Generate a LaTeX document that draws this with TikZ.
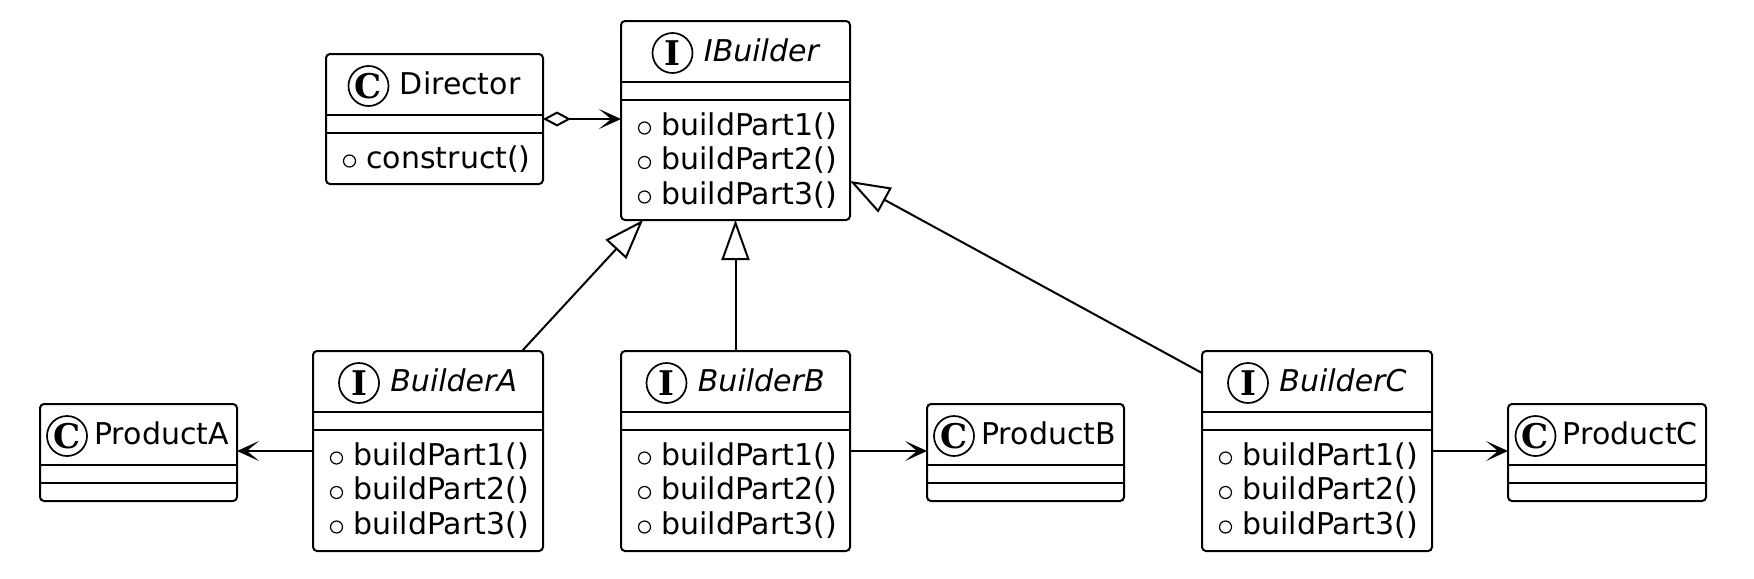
\documentclass[tikz,border=0pt]{standalone}
\usepackage{fontspec}
\newfontfamily\dvs{DejaVu Sans}
\newfontfamily\spotfont{DejaVu Serif}
\usetikzlibrary{arrows.meta,fit,calc}
\tikzset{
  box/.style={draw, line width=1pt, rounded corners=2pt, inner sep=0pt, outer sep=0pt},
  sep/.style={line width=1pt},
  ttl/.style={font=\dvs\fontsize{15}{18}\selectfont, anchor=base west, inner sep=0pt},
  ittl/.style={ttl, font=\dvs\itshape\fontsize{15}{18}\selectfont},
  mem/.style={ttl},
  spot/.style={circle, draw, line width=0.85pt, minimum size=20pt, inner sep=0pt, font=\spotfont\bfseries\fontsize{17}{17}\selectfont},
  vis/.style={circle, draw, line width=0.6pt, minimum size=6pt, inner sep=0pt},
  conn/.style={line width=1pt},
  assoc/.style={conn, -{Stealth[length=11pt,width=10pt,inset=6pt]}},
  gen/.style={conn, -{Triangle[open,length=20pt,width=14pt,fill=white]}},
  agg/.style={conn, {Diamond[open,length=14pt,width=7.5pt,fill=white]}-{Stealth[length=11pt,width=10pt,inset=6pt]}},
}
\begin{document}
\begin{tikzpicture}[x=0.5pt,y=-0.5pt]
\useasboundingbox (0,0) rectangle (1754,578);

% ---------- Director ----------
\node[box, fit={(326,54) (543,184)}] (dir) {};
\draw[sep] (dir.west |- 0,115) -- (dir.east |- 0,115);
\draw[sep] (dir.west |- 0,132.5) -- (dir.east |- 0,132.5);
\node[spot] (dir-s) at (368.5,86) {C};
\node[ttl] (dir-t) at (399.5,94) {Director};
\node[vis] (dir-v1) at (349.5,161) {};
\node[mem] (dir-m1) at (366,168) {construct()};

% ---------- IBuilder ----------
\node[box, fit={(621,21) (850,220)}] (ib) {};
\draw[sep] (ib.west |- 0,82) -- (ib.east |- 0,82);
\draw[sep] (ib.west |- 0,99.5) -- (ib.east |- 0,99.5);
\node[spot] (ib-s) at (672.5,53) {I};
\node[ittl] (ib-t) at (703.5,61) {IBuilder};
\node[vis] (ib-v1) at (644.5,128) {};
\node[mem] (ib-m1) at (661,135) {buildPart1()};
\node[vis] (ib-v2) at (644.5,162.5) {};
\node[mem] (ib-m2) at (661,169.5) {buildPart2()};
\node[vis] (ib-v3) at (644.5,197) {};
\node[mem] (ib-m3) at (661,204) {buildPart3()};

% ---------- BuilderA ----------
\node[box, fit={(313,351) (543,551)}] (ba) {};
\draw[sep] (ba.west |- 0,412) -- (ba.east |- 0,412);
\draw[sep] (ba.west |- 0,429.5) -- (ba.east |- 0,429.5);
\node[spot] (ba-s) at (359,383) {I};
\node[ittl] (ba-t) at (390,391) {BuilderA};
\node[vis] (ba-v1) at (336.5,458) {};
\node[mem] (ba-m1) at (353,465) {buildPart1()};
\node[vis] (ba-v2) at (336.5,492.5) {};
\node[mem] (ba-m2) at (353,499.5) {buildPart2()};
\node[vis] (ba-v3) at (336.5,527) {};
\node[mem] (ba-m3) at (353,534) {buildPart3()};

% ---------- BuilderB ----------
\node[box, fit={(621,351) (850,551)}] (bb) {};
\draw[sep] (bb.west |- 0,412) -- (bb.east |- 0,412);
\draw[sep] (bb.west |- 0,429.5) -- (bb.east |- 0,429.5);
\node[spot] (bb-s) at (666.5,383) {I};
\node[ittl] (bb-t) at (697.5,391) {BuilderB};
\node[vis] (bb-v1) at (644.5,458) {};
\node[mem] (bb-m1) at (661,465) {buildPart1()};
\node[vis] (bb-v2) at (644.5,492.5) {};
\node[mem] (bb-m2) at (661,499.5) {buildPart2()};
\node[vis] (bb-v3) at (644.5,527) {};
\node[mem] (bb-m3) at (661,534) {buildPart3()};

% ---------- BuilderC ----------
\node[box, fit={(1202,351) (1432,551)}] (bc) {};
\draw[sep] (bc.west |- 0,412) -- (bc.east |- 0,412);
\draw[sep] (bc.west |- 0,429.5) -- (bc.east |- 0,429.5);
\node[spot] (bc-s) at (1248,383) {I};
\node[ittl] (bc-t) at (1279,391) {BuilderC};
\node[vis] (bc-v1) at (1225.5,458) {};
\node[mem] (bc-m1) at (1242,465) {buildPart1()};
\node[vis] (bc-v2) at (1225.5,492.5) {};
\node[mem] (bc-m2) at (1242,499.5) {buildPart2()};
\node[vis] (bc-v3) at (1225.5,527) {};
\node[mem] (bc-m3) at (1242,534) {buildPart3()};

% ---------- Products ----------
\node[box, fit={(40,404) (237,501)}] (pa) {};
\draw[sep] (pa.west |- 0,465) -- (pa.east |- 0,465);
\draw[sep] (pa.west |- 0,483) -- (pa.east |- 0,483);
\node[spot] (pa-s) at (67,436) {C};
\node[ttl] (pa-t) at (94,444) {ProductA};

\node[box, fit={(927,404) (1124,501)}] (pb) {};
\draw[sep] (pb.west |- 0,465) -- (pb.east |- 0,465);
\draw[sep] (pb.west |- 0,483) -- (pb.east |- 0,483);
\node[spot] (pb-s) at (954,436) {C};
\node[ttl] (pb-t) at (981,444) {ProductB};

\node[box, fit={(1508,404) (1706,501)}] (pc) {};
\draw[sep] (pc.west |- 0,465) -- (pc.east |- 0,465);
\draw[sep] (pc.west |- 0,483) -- (pc.east |- 0,483);
\node[spot] (pc-s) at (1535.5,436) {C};
\node[ttl] (pc-t) at (1562.5,444) {ProductC};

% ---------- Connectors ----------
\draw[agg] (dir.east) -- (dir.east -| ib.west);
\draw[gen] ($(ba.north east)+(-21,0)$) -- ($(ib.south west)+(22,0)$);
\draw[gen] (bb.north) -- (ib.south);
\draw[gen] ($(bc.north west)+(0,22)$) -- ($(ib.south east)+(0,-39)$);
\draw[assoc] (ba.west) -- (ba.west -| pa.east);
\draw[assoc] (bb.east) -- (bb.east -| pb.west);
\draw[assoc] (bc.east) -- (bc.east -| pc.west);
\end{tikzpicture}
\end{document}
